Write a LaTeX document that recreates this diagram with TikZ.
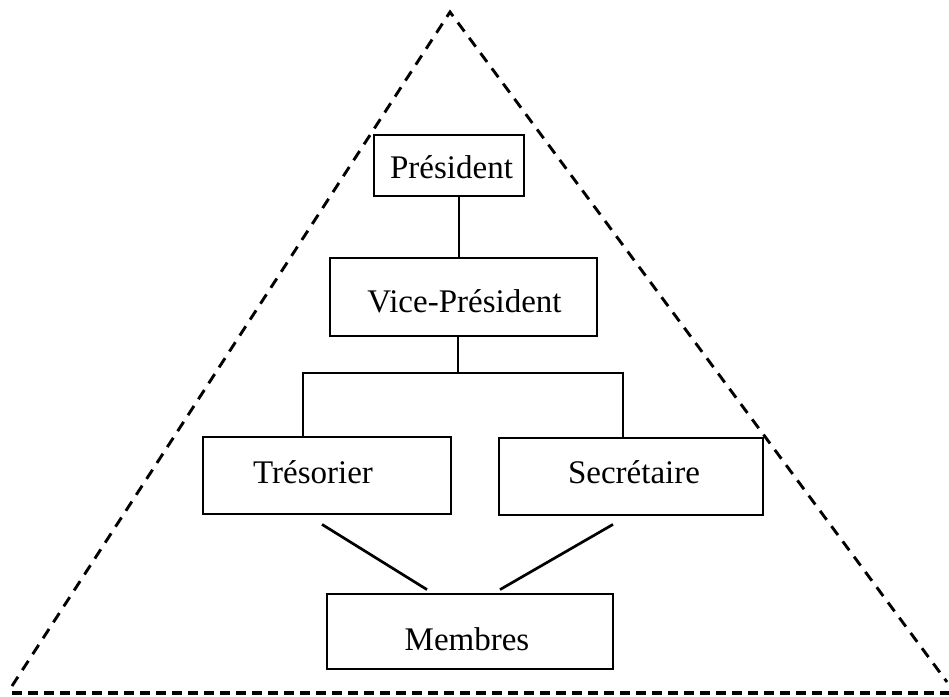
\documentclass[tikz,border=0pt]{standalone}
\usepackage{fontspec}
\setmainfont{Liberation Serif}
\begin{document}
\begin{tikzpicture}[x=1pt,y=-1pt,
  box/.style={draw, line width=2.8pt, fill=white, inner sep=0pt, minimum width=#1},
  lbl/.style={anchor=base, inner sep=0pt, font=\fontsize{33}{36}\selectfont},
  link/.style={line width=2.7pt},
  frame/.style={line width=2.9pt, dash pattern=on 11pt off 8pt},
  floor/.style={line width=3.1pt, dash pattern=on 10pt off 6pt}]
\useasboundingbox (0,0) rectangle (949,696);

% outer dashed triangle
\coordinate (apex) at (450,12);
\coordinate (bl) at (12,686);
\coordinate (br) at (947,682);
\coordinate (fl) at (12,693);
\coordinate (fr) at (949,693);
\draw[frame] (bl) -- (apex) -- (br);
\draw[floor] (fl) -- (fr);

% boxes
\node[box=150pt, minimum height=61pt] (pres) at (449,165.5) {};
\node[box=267pt, minimum height=78pt] (vp) at (463.5,297) {};
\node[box=248pt, minimum height=77pt] (tres) at (327,475.5) {};
\node[box=264pt, minimum height=77pt] (sec) at (631,476.5) {};
\node[box=286pt, minimum height=75pt] (mem) at (470,631.5) {};

% labels
\node[lbl] (tpres) at (451.5,178) {Président};
\node[lbl] (tvp) at (464.5,312) {Vice-Président};
\node[lbl] (ttres) at (313,483) {Trésorier};
\node[lbl] (tsec) at (634,483) {Secrétaire};
\node[lbl] (tmem) at (467,650) {Membres};

% connectors
\coordinate (split) at (458,373);
\draw[link] ([xshift=10pt]pres.south) -- ([xshift=10pt]pres.south |- vp.north);
\draw[link] (split |- vp.south) -- (split);
\draw[link] ([xshift=-24pt]tres.north) |- (split) -| ([xshift=-8pt]sec.north);
\draw[link] ([xshift=-5pt,yshift=-9pt]tres.south) -- ([xshift=-43pt,yshift=3pt]mem.north);
\draw[link] ([xshift=-18pt,yshift=-8pt]sec.south) -- ([xshift=30pt,yshift=3pt]mem.north);
\end{tikzpicture}
\end{document}
